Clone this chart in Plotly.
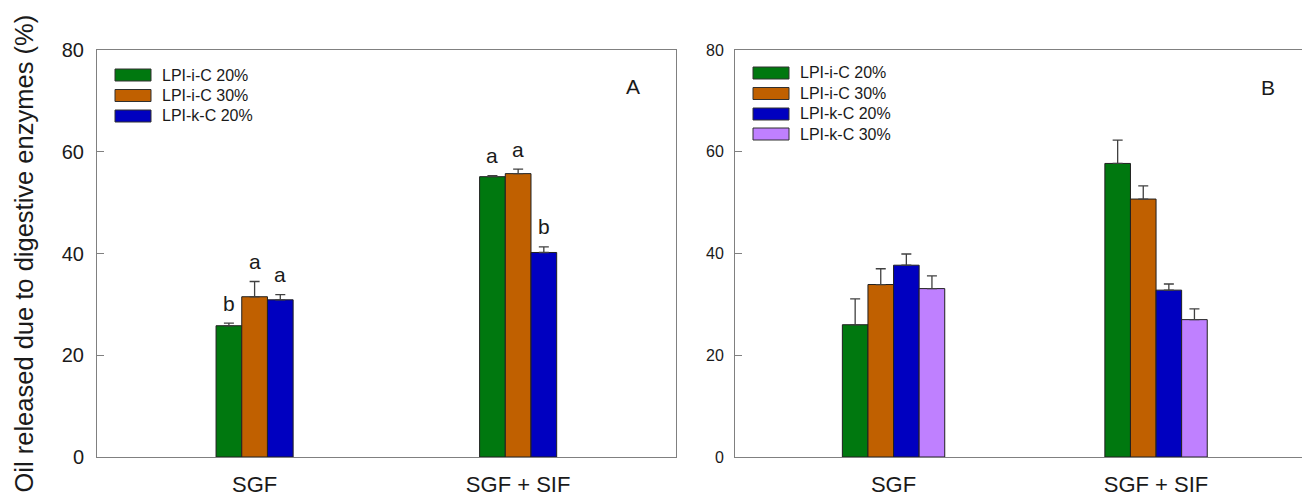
import plotly.graph_objects as go

W, H = 1302, 497

# ---------------- data ----------------
categories = ["SGF", "SGF + SIF"]
x_pos = [1, 2]

# Panel A
a_names = ["LPI-i-C 20%", "LPI-i-C 30%", "LPI-k-C 20%"]
a_i20 = [25.8, 55.1]
a_i20_err = [0.5, 0.2]
a_i30 = [31.5, 55.7]
a_i30_err = [3.0, 0.9]
a_k20 = [30.9, 40.2]
a_k20_err = [1.0, 1.1]
a_i20_letters = ["b", "a"]
a_i30_letters = ["a", "a"]
a_k20_letters = ["a", "b"]

# Panel B
b_names = ["LPI-i-C 20%", "LPI-i-C 30%", "LPI-k-C 20%", "LPI-k-C 30%"]
b_i20 = [26.0, 57.7]
b_i20_err = [5.1, 4.6]
b_i30 = [33.9, 50.7]
b_i30_err = [3.1, 2.6]
b_k20 = [37.7, 32.8]
b_k20_err = [2.2, 1.2]
b_k30 = [33.1, 27.0]
b_k30_err = [2.5, 2.1]

y_ticks = [0, 20, 40, 60, 80]
colors = ["#00780F", "#C06000", "#0000C0", "#BF80FF"]

FONT = "Liberation Sans, Arial, sans-serif"
AXIS_COL = "#808080"
TXT = "#1a1a1a"
BAR_W = 0.0975


def px_x(p):
    return p / W


def px_y(p):
    return 1 - p / H


fig = go.Figure()

panelA = [
    (a_names[0], a_i20, a_i20_err, a_i20_letters),
    (a_names[1], a_i30, a_i30_err, a_i30_letters),
    (a_names[2], a_k20, a_k20_err, a_k20_letters),
]
panelB = [
    (b_names[0], b_i20, b_i20_err, None),
    (b_names[1], b_i30, b_i30_err, None),
    (b_names[2], b_k20, b_k20_err, None),
    (b_names[3], b_k30, b_k30_err, None),
]

annotations = []
shapes = []

for panel, xa, ya in [(panelA, "x", "y"), (panelB, "x2", "y2")]:
    n = len(panel)
    for i, (name, vals, errs, letters) in enumerate(panel):
        off = (i - n / 2) * BAR_W
        fig.add_trace(go.Bar(
            x=x_pos, y=vals, name=name, xaxis=xa, yaxis=ya,
            width=BAR_W, offset=off,
            marker=dict(color=colors[i], line=dict(color="#202020", width=1)),
            error_y=dict(type="data", array=errs, arrayminus=[0] * len(errs),
                         symmetric=False, color="#404040", thickness=1.3, width=5),
            showlegend=False,
        ))
        if letters:
            for xp, v, e, t in zip(x_pos, vals, errs, letters):
                annotations.append(dict(
                    x=xp + off + BAR_W / 2, y=v + e, xref=xa, yref=ya,
                    text=t, showarrow=False, xanchor="center", yanchor="middle",
                    yshift=20, font=dict(size=21, color=TXT, family=FONT)))


# custom legends
def add_legend(names, x0, rows):
    for i, (name, yc) in enumerate(zip(names, rows)):
        shapes.append(dict(type="rect", xref="paper", yref="paper",
                           x0=px_x(x0), x1=px_x(x0 + 36),
                           y0=px_y(yc + 6), y1=px_y(yc - 6),
                           fillcolor=colors[i], line=dict(color="#303030", width=1)))
        annotations.append(dict(x=px_x(x0 + 45), y=px_y(yc), xref="paper", yref="paper",
                                text=name, showarrow=False, xanchor="left", yanchor="middle",
                                font=dict(size=16, color=TXT, family=FONT)))


add_legend(a_names, 115, [75, 95.5, 116])
add_legend(b_names, 753, [73, 93.5, 114, 134])

# panel letters
annotations.append(dict(x=px_x(633), y=px_y(86), xref="paper", yref="paper", text="A",
                        showarrow=False, xanchor="center", yanchor="middle",
                        font=dict(size=21, color=TXT, family=FONT)))
annotations.append(dict(x=px_x(1268), y=px_y(87), xref="paper", yref="paper", text="B",
                        showarrow=False, xanchor="center", yanchor="middle",
                        font=dict(size=21, color=TXT, family=FONT)))

# y title
annotations.append(dict(x=px_x(24), y=px_y(253.5), xref="paper", yref="paper",
                        text="Oil released due to digestive enzymes (%)", textangle=-90,
                        showarrow=False, xanchor="center", yanchor="middle",
                        font=dict(size=25.5, color=TXT, family=FONT)))

yA_dom = [px_y(457), px_y(50)]

common_x = dict(tickvals=x_pos, ticktext=categories, ticks="", showline=True,
                linecolor=AXIS_COL, linewidth=1, mirror=True, showgrid=False,
                zeroline=False, tickfont=dict(size=22, color=TXT, family=FONT),
                ticklabelstandoff=8, automargin=False)
common_y = dict(range=[0, 80], tickvals=y_ticks, ticks="inside", ticklen=7,
                tickcolor=AXIS_COL, showline=True, linecolor=AXIS_COL, linewidth=1,
                showgrid=False, zeroline=False, automargin=False)

fig.update_layout(
    width=W, height=H,
    margin=dict(l=0, r=0, t=0, b=0, autoexpand=False),
    paper_bgcolor="white", plot_bgcolor="white",
    barmode="overlay",
    xaxis=dict(domain=[px_x(97), px_x(676)], range=[0.402, 2.599], anchor="y", **common_x),
    yaxis=dict(domain=yA_dom, anchor="x", mirror=True,
               tickfont=dict(size=20, color=TXT, family=FONT), ticklabelstandoff=8,
               **common_y),
    xaxis2=dict(domain=[px_x(735), 1.0], range=[0.396, 2.556], anchor="y2", **common_x),
    yaxis2=dict(domain=yA_dom, anchor="x2", mirror=False,
                tickfont=dict(size=16, color=TXT, family=FONT), ticklabelstandoff=7,
                **common_y),
    annotations=annotations,
    shapes=shapes,
    font=dict(family=FONT),
)

fig.write_html(
    "out.html",
    config={"displayModeBar": False},
    post_script="document.body.style.margin='0';document.body.style.overflow='hidden';",
)
